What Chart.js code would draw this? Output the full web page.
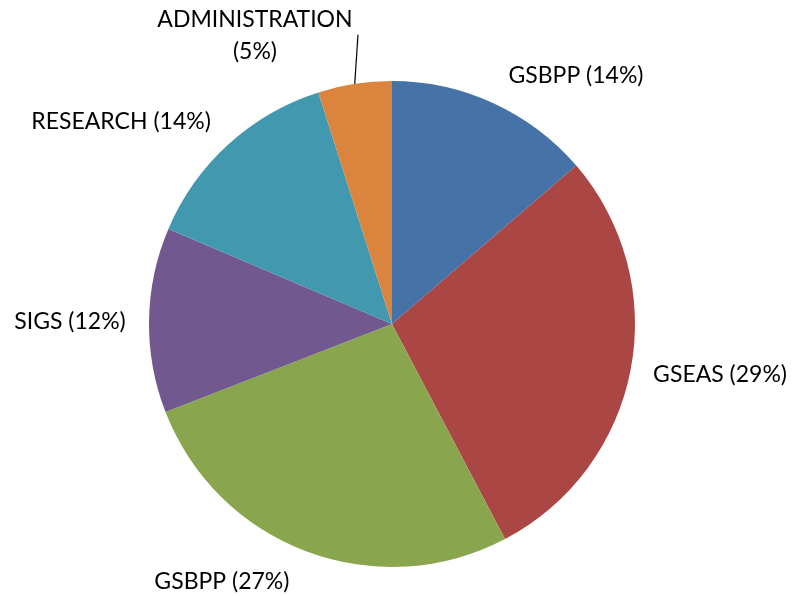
<!DOCTYPE html>
<html>
<head>
<meta charset="utf-8">
<script src="https://cdn.jsdelivr.net/npm/chart.js@4"></script>
<style>
  html, body { margin: 0; padding: 0; background: #ffffff; }
  #wrap { width: 793px; height: 596px; }
</style>
</head>
<body>
<div id="wrap"><canvas id="c" width="793" height="596"></canvas></div>
<script>
const categories = ["GSBPP", "GSEAS", "GSBPP", "SIGS", "RESEARCH", "ADMINISTRATION"];
const values = [13.7, 28.6, 26.8, 12.3, 13.7, 4.9];
const colors = ["#4572A7", "#AA4643", "#89A54E", "#71588F", "#4198AF", "#DB843D"];

const total = values.reduce((a, b) => a + b, 0);
const pctText = values.map(v => Math.round(v / total * 100) + "%");

// label anchors relative to pie centre, in units of the radius
const labelAnchors = [
  { dx: 0.757, dy: -1.021 },
  { dx: 1.350, dy: 0.210 },
  { dx: -0.700, dy: 1.062 },
  { dx: -1.325, dy: -0.008 },
  { dx: -1.115, dy: -0.831 },
  { dx: -0.564, dy: -1.251, twoLine: true, leader: { dx: -0.140, dy: -1.19 } }
];

const labelPlugin = {
  id: 'outsideLabels',
  afterDatasetsDraw(chart) {
    const ctx = chart.ctx;
    const meta = chart.getDatasetMeta(0);
    ctx.save();
    ctx.fillStyle = '#000000';
    ctx.font = '23px Lato, "Open Sans", sans-serif';
    ctx.textAlign = 'center';
    ctx.textBaseline = 'middle';
    meta.data.forEach((arc, i) => {
      const p = arc.getProps(['x', 'y', 'outerRadius', 'startAngle', 'endAngle'], true);
      const a = labelAnchors[i];
      const lx = p.x + a.dx * p.outerRadius;
      const ly = p.y + a.dy * p.outerRadius;
      if (a.twoLine) {
        ctx.fillText(categories[i], lx, ly);
        ctx.fillText("(" + pctText[i] + ")", lx, ly + 32);
      } else {
        ctx.fillText(categories[i] + " (" + pctText[i] + ")", lx, ly);
      }
      if (a.leader) {
        const mid = (p.startAngle + p.endAngle) / 2;
        const sx = p.x + Math.cos(mid) * p.outerRadius;
        const sy = p.y + Math.sin(mid) * p.outerRadius;
        ctx.beginPath();
        ctx.strokeStyle = '#000000';
        ctx.lineWidth = 1.2;
        ctx.moveTo(sx, sy);
        ctx.lineTo(p.x + a.leader.dx * p.outerRadius, p.y + a.leader.dy * p.outerRadius);
        ctx.stroke();
      }
    });
    ctx.restore();
  }
};

new Chart(document.getElementById('c'), {
  type: 'pie',
  data: {
    labels: categories,
    datasets: [{
      data: values,
      backgroundColor: colors,
      borderWidth: 0,
      hoverOffset: 0,
      offset: 0
    }]
  },
  options: {
    responsive: false,
    animation: false,
    layout: { padding: { left: 149, right: 158, top: 81, bottom: 29 } },
    plugins: {
      legend: { display: false },
      tooltip: { enabled: false }
    }
  },
  plugins: [labelPlugin]
});
</script>
</body>
</html>
